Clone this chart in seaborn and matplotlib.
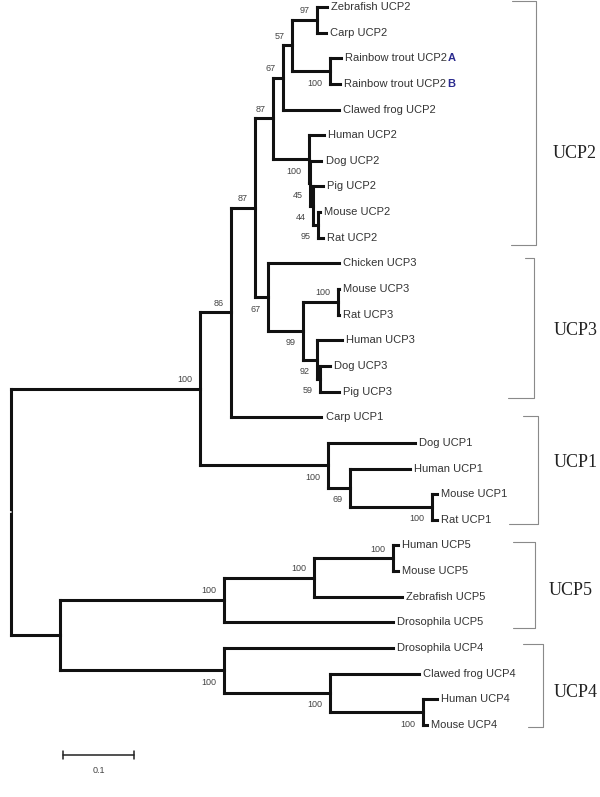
import matplotlib
matplotlib.use('Agg')
import matplotlib.pyplot as plt
import seaborn as sns
import pandas as pd

# leaves from top to bottom
leaves = ['Zebrafish UCP2', 'Carp UCP2', 'Rainbow trout UCP2A', 'Rainbow trout UCP2B', 'Clawed frog UCP2',
          'Human UCP2', 'Dog UCP2', 'Pig UCP2', 'Mouse UCP2', 'Rat UCP2',
          'Chicken UCP3', 'Mouse UCP3', 'Rat UCP3', 'Human UCP3', 'Dog UCP3', 'Pig UCP3',
          'Carp UCP1', 'Dog UCP1', 'Human UCP1', 'Mouse UCP1', 'Rat UCP1',
          'Human UCP5', 'Mouse UCP5', 'Zebrafish UCP5', 'Drosophila UCP5',
          'Drosophila UCP4', 'Clawed frog UCP4', 'Human UCP4', 'Mouse UCP4']
tagged = {'Rainbow trout UCP2A': 'A', 'Rainbow trout UCP2B': 'B'}

# branches: (child, parent, length)
deep_branches = [('n_a', 'root', 0.267), ('n_b', 'root', 0.070),
                 ('n86', 'n_a', 0.044), ('u1', 'n_a', 0.180),
                 ('n87a', 'n86', 0.034), ('Carp UCP1', 'n86', 0.127),
                 ('n87b', 'n87a', 0.025), ('n67a', 'n87a', 0.018)]
ucp2_branches = [('n67b', 'n87b', 0.014), ('m2', 'n87b', 0.051),
                 ('n57', 'n67b', 0.013), ('Clawed frog UCP2', 'n67b', 0.079),
                 ('n97', 'n57', 0.035), ('trout', 'n57', 0.053),
                 ('Zebrafish UCP2', 'n97', 0.014), ('Carp UCP2', 'n97', 0.012),
                 ('Rainbow trout UCP2A', 'trout', 0.015), ('Rainbow trout UCP2B', 'trout', 0.014),
                 ('Human UCP2', 'm2', 0.020), ('n45', 'm2', 0.001),
                 ('Dog UCP2', 'n45', 0.016), ('n44', 'n45', 0.004),
                 ('Pig UCP2', 'n44', 0.014), ('n95', 'n44', 0.007),
                 ('Mouse UCP2', 'n95', 0.003), ('Rat UCP2', 'n95', 0.007)]
ucp3_branches = [('Chicken UCP3', 'n67a', 0.100), ('n99', 'n67a', 0.049),
                 ('mr3', 'n99', 0.049), ('n92', 'n99', 0.020),
                 ('Mouse UCP3', 'mr3', 0.001), ('Rat UCP3', 'mr3', 0.001),
                 ('Human UCP3', 'n92', 0.035), ('n59', 'n92', 0.004),
                 ('Dog UCP3', 'n59', 0.014), ('Pig UCP3', 'n59', 0.027)]
ucp1_branches = [('Dog UCP1', 'u1', 0.123), ('n69', 'u1', 0.031),
                 ('Human UCP1', 'n69', 0.085), ('mr1', 'n69', 0.116),
                 ('Mouse UCP1', 'mr1', 0.007), ('Rat UCP1', 'mr1', 0.007)]
ucp5_branches = [('u5', 'n_b', 0.230), ('z5', 'u5', 0.128), ('Drosophila UCP5', 'u5', 0.239),
                 ('hm5', 'z5', 0.111), ('Zebrafish UCP5', 'z5', 0.123),
                 ('Human UCP5', 'hm5', 0.007), ('Mouse UCP5', 'hm5', 0.007)]
ucp4_branches = [('u4', 'n_b', 0.231), ('Drosophila UCP4', 'u4', 0.238), ('f4', 'u4', 0.149),
                 ('Clawed frog UCP4', 'f4', 0.125), ('hm4', 'f4', 0.131),
                 ('Human UCP4', 'hm4', 0.020), ('Mouse UCP4', 'hm4', 0.006)]

# bootstrap values
support = {'n97': 97, 'n57': 57, 'n67b': 67, 'n87b': 87, 'n87a': 87, 'n86': 86, 'n_a': 100,
           'trout': 100, 'm2': 100, 'n45': 45, 'n44': 44, 'n95': 95,
           'n67a': 67, 'mr3': 100, 'n99': 99, 'n92': 92, 'n59': 59,
           'u1': 100, 'n69': 69, 'mr1': 100,
           'u5': 100, 'z5': 100, 'hm5': 100, 'u4': 100, 'f4': 100, 'hm4': 100}
support_above = ['n97', 'n57', 'n67b', 'n87b', 'n87a', 'n86', 'n_a', 'mr3', 'hm5', 'z5', 'u5']

groups = ['UCP2', 'UCP3', 'UCP1', 'UCP5', 'UCP4']
group_sizes = [10, 6, 5, 4, 4]
scale_len = 0.1

# ---- layout ----
branches = deep_branches + ucp2_branches + ucp3_branches + ucp1_branches + ucp5_branches + ucp4_branches
children = {}
blen = {}
for c, p, l in branches:
    children.setdefault(p, []).append(c)
    blen[c] = l

xpos = {'root': 0.0}
ypos = {name: i for i, name in enumerate(leaves)}


def place(node):
    for c in children.get(node, []):
        xpos[c] = xpos[node] + blen[c]
        place(c)
    if node in children:
        ys = [ypos[c] for c in children[node]]
        ypos[node] = (min(ys) + max(ys)) / 2


place('root')

segs = []
k = 0
for node, kids in children.items():
    ys = [ypos[c] for c in kids]
    segs += [(k, xpos[node], min(ys)), (k, xpos[node], max(ys))]
    k += 1
    for c in kids:
        segs += [(k, xpos[node], ypos[c]), (k, xpos[c], ypos[c])]
        k += 1
edges = pd.DataFrame(segs, columns=['seg', 'x', 'y'])

sns.set_style('white')
fig = plt.figure(figsize=(6, 7.97), dpi=100)
ax = fig.add_axes([0, 0, 1, 1])
sns.lineplot(data=edges, x='x', y='y', units='seg', estimator=None, sort=False,
             color='#111111', linewidth=2.2, solid_capstyle='projecting', ax=ax, legend=False)

# root marker
ax.plot([xpos['root'] - 0.003, xpos['root'] + 0.001], [ypos['root']] * 2, color='white', lw=1.2)

sans = ['Liberation Sans', 'DejaVu Sans']
for name in leaves:
    label = name[:-1] if name in tagged else name
    t = ax.annotate(label, (xpos[name], ypos[name]), xytext=(3, 0), textcoords='offset points',
                    va='center', ha='left', fontsize=8, color='#333333', family=sans)
    if name in tagged:
        ax.annotate(tagged[name], xy=(1, 0), xycoords=t, xytext=(1, 0), textcoords='offset points',
                    va='bottom', ha='left', fontsize=8, color='#2b2b8f', fontweight='bold', family=sans)

for node, val in support.items():
    dy = 6.5 if node in support_above else -8.6
    ax.annotate(str(val), (xpos[node], ypos[node]), xytext=(-5.5, dy), textcoords='offset points',
                ha='right', va='center', fontsize=6.5, color='#444444', family=sans)

# group brackets: vertical x, top tick left, bottom tick left, top pad, bottom pad, label x, label y shift
bracket_layout = [(0.740, 0.706, 0.705, 0.23, 0.27, 0.764, 1.2),
                  (0.737, 0.725, 0.701, 0.23, 0.23, 0.765, 0.1),
                  (0.743, 0.722, 0.702, 0.04, 0.15, 0.765, -0.22),
                  (0.739, 0.708, 0.708, 0.12, 0.23, 0.758, 0.24),
                  (0.750, 0.722, 0.729, 0.16, 0.08, 0.765, 0.22)]
start = 0
for g, n, (bx, tl, bl, tp, bp, lx, ly) in zip(groups, group_sizes, bracket_layout):
    y0 = ypos[leaves[start]] - tp
    y1 = ypos[leaves[start + n - 1]] + bp
    ax.plot([tl, bx, bx, bl], [y0, y0, y1, y1], color='#8a8a8a', lw=0.8)
    ym = (ypos[leaves[start]] + ypos[leaves[start + n - 1]]) / 2 + ly
    ax.text(lx, ym, g, ha='left', va='center', fontsize=13, color='#222222',
            family=['Liberation Serif', 'DejaVu Serif'])
    start += n

# scale bar
sx0, sy = 0.074, 29.17
ax.plot([sx0, sx0 + scale_len], [sy, sy], color='#222222', lw=1.1)
ax.plot([sx0, sx0], [sy - 0.14, sy + 0.14], color='#222222', lw=1.1)
ax.plot([sx0 + scale_len, sx0 + scale_len], [sy - 0.14, sy + 0.14], color='#222222', lw=1.1)
ax.text(sx0 + scale_len / 2, sy + 0.62, str(scale_len), ha='center', va='center',
        fontsize=6.5, color='#444444', family=sans)

ax.set_xlim(-0.0148, 0.8303)
ax.set_ylim(30.81, -0.273)
ax.axis('off')
fig.savefig('out.png', dpi=100)
